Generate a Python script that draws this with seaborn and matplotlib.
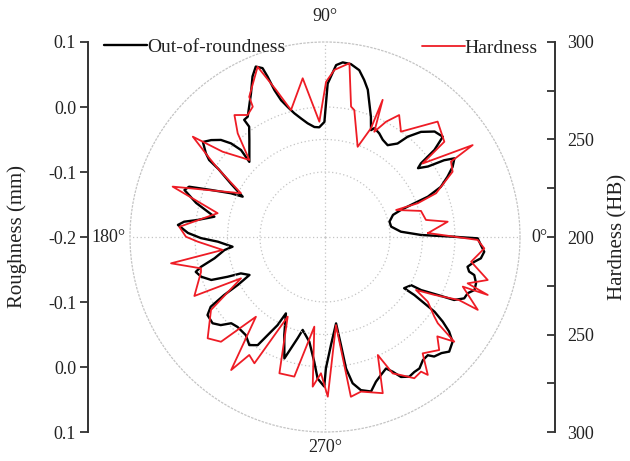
import numpy as np
import matplotlib
matplotlib.use("Agg")
import matplotlib.pyplot as plt
from matplotlib.ticker import FixedLocator
import seaborn as sns

# ---- data -------------------------------------------------------------
# Out-of-roundness profile: polar angle (deg) and roughness (mm)
roundness_deg = [0.1, 1.2, 4.0, 8.9, 13.4, 18.0, 19.6, 20.7, 21.4, 23.4, 26.2, 28.8,
                 31.3, 32.8, 34.4, 36.5, 37.5, 38.5, 40.4, 43.9, 47.6, 50.5, 52.2,
                 55.7, 59.3, 62.4, 65.6, 66.7, 69.1, 71.7, 73.8, 76.0, 78.4, 81.5,
                 84.2, 86.3, 89.0, 90.3, 93.0, 95.5, 98.7, 101.4, 103.9, 106.0,
                 107.8, 109.0, 109.7, 110.3, 112.1, 114.3, 117.2, 120.2, 122.7,
                 124.6, 124.5, 128.0, 135.2, 134.0, 135.1, 137.0, 139.6, 142.1,
                 144.9, 146.4, 147.0, 147.5, 150.5, 153.9, 155.1, 157.6, 159.7,
                 161.5, 165.2, 169.6, 172.4, 173.8, 175.3, 178.3, 180.5, 182.5,
                 186.0, 187.4, 190.9, 193.5, 195.1, 197.8, 200.7, 202.2, 203.4,
                 206.7, 208.8, 209.9, 211.4, 213.6, 217.5, 220.2, 222.6, 225.8,
                 231.1, 235.0, 238.1, 239.7, 241.7, 242.9, 247.4, 251.5, 253.0,
                 254.9, 256.5, 261.5, 265.1, 267.0, 269.7, 270.4, 273.2, 277.3,
                 278.4, 279.1, 280.7, 283.2, 286.6, 289.4, 292.1, 294.9, 296.7,
                 298.5, 301.1, 303.5, 305.7, 308.5, 311.0, 312.4, 315.1, 317.3,
                 320.6, 322.7, 324.3, 325.7, 326.3, 327.0, 327.1, 330.8, 331.1,
                 332.8, 334.0, 336.2, 338.5, 340.5, 343.0, 345.7, 346.5, 348.2,
                 350.6, 352.2, 354.7, 357.1, 359.5]
roughness = [-0.001, -0.052, -0.083, -0.097, -0.098, -0.090, -0.076, -0.053, -0.030,
             -0.006, 0.010, 0.024, 0.033, 0.018, -0.008, -0.022, -0.014, 0.015, 0.038,
             0.034, 0.019, 0.000, -0.018, -0.029, -0.026, -0.020, -0.016, -0.021,
             -0.002, 0.017, 0.036, 0.049, 0.062, 0.069, 0.070, 0.065, 0.036, -0.023,
             -0.031, -0.030, -0.023, -0.014, -0.004, 0.008, 0.021, 0.039, 0.062,
             0.077, 0.083, 0.071, 0.049, 0.032, 0.020, 0.019, 0.006, -0.011, -0.036,
             -0.014, 0.004, 0.019, 0.030, 0.038, 0.024, 0.014, 0.003, -0.006, -0.034,
             -0.059, -0.040, -0.010, 0.023, 0.028, 0.005, -0.027, -0.002, 0.018,
             0.027, 0.011, -0.009, -0.035, -0.057, -0.044, -0.027, -0.004, 0.006,
             0.000, -0.013, -0.038, -0.059, -0.070, -0.047, -0.021, 0.006, 0.017,
             0.018, 0.010, -0.004, -0.007, -0.006, 0.003, -0.004, -0.025, -0.046,
             -0.068, -0.037, -0.003, -0.021, -0.039, -0.053, -0.037, -0.007, 0.018,
             0.030, 0.002, -0.034, -0.066, -0.032, 0.005, 0.029, 0.042, 0.048, 0.036,
             0.029, 0.023, 0.032, 0.045, 0.051, 0.049, 0.049, 0.042, 0.041, 0.049,
             0.053, 0.060, 0.054, 0.040, 0.023, 0.004, -0.016, -0.036, -0.055,
             -0.048, -0.031, -0.005, 0.021, 0.034, 0.036, 0.044, 0.043, 0.037, 0.028,
             0.024, 0.033, 0.042, 0.046, 0.040, 0.035]

# Hardness profile: polar angle (deg) and hardness (HB)
hardness_deg = [2.2, 7.1, 9.6, 15.2, 20.8, 20.0, 21.5, 27.1, 30.9, 31.9, 37.0, 38.6,
                45.7, 54.2, 58.7, 62.1, 64.9, 67.2, 67.1, 70.1, 77.0, 78.7, 82.0,
                86.8, 89.6, 92.8, 98.0, 105.0, 108.4, 111.6, 118.4, 119.0, 122.4,
                126.6, 130.1, 134.5, 140.2, 142.8, 145.7, 147.4, 152.5, 161.7, 167.5,
                176.0, 179.9, 182.1, 187.2, 189.7, 194.2, 195.8, 204.3, 206.2, 212.6,
                220.8, 225.2, 229.1, 234.8, 237.3, 240.8, 244.9, 251.5, 257.6, 263.2,
                265.3, 268.3, 271.0, 277.1, 279.2, 283.1, 290.3, 294.1, 296.4, 298.8,
                302.3, 305.5, 306.7, 310.0, 315.3, 318.5, 321.0, 322.6, 324.0, 327.8,
                329.8, 332.1, 334.8, 334.5, 340.2, 340.4, 342.0, 345.2, 350.4, 355.9,
                358.9]
hardness = [252.9, 263.4, 252.5, 251.0, 239.0, 250.6, 261.2, 273.5, 275.3, 289.2,
            262.6, 278.3, 282.7, 266.6, 273.2, 266.9, 259.6, 276.3, 260.5, 249.2,
            266.8, 268.2, 290.0, 285.8, 279.6, 259.2, 282.2, 267.4, 279.5, 293.9,
            281.7, 276.4, 274.1, 277.9, 269.5, 255.4, 268.3, 285.1, 271.8, 265.3,
            248.6, 282.3, 256.4, 274.9, 271.3, 265.3, 252.9, 280.1, 265.6, 266.1,
            273.5, 248.0, 269.4, 279.5, 275.7, 254.1, 283.5, 271.9, 274.2, 245.1,
            273.7, 273.3, 246.3, 277.0, 269.9, 281.9, 245.5, 283.0, 281.4, 285.4,
            266.3, 278.1, 280.8, 285.7, 284.8, 288.2, 277.9, 282.4, 276.9, 285.3,
            272.8, 269.2, 262.3, 254.0, 263.4, 275.9, 286.8, 275.1, 288.6, 276.9,
            286.3, 276.0, 281.9, 278.3]

roughness_ticks = [0.1, 0.0, -0.1, -0.2, -0.1, 0.0, 0.1]
hardness_ticks = ["300", "250", "200", "250", "300"]
angle_labels = ["0°", "90°", "180°", "270°"]

# ---- style ------------------------------------------------------------
sns.set_theme(style="white")
plt.rcParams["font.family"] = ["Liberation Serif", "DejaVu Serif"]
plt.rcParams["mathtext.fontset"] = "stix"

W, H = 630, 461
fig = plt.figure(figsize=(W / 100, H / 100), dpi=100)

cx, cy, rad = 325, 237, 195          # polar centre and radius in pixels
top_px, bot_px = cy - rad, cy + rad
left_px, right_px = 88, 555

axes_color = "#333333"
grid_kw = dict(color="#c4c4c4", linestyle=(0, (1, 2)), linewidth=0.9)

# ---- linear side scales ------------------------------------------------
ax_l = fig.add_axes([left_px / W, (H - bot_px) / H,
                     (right_px - left_px) / W, (bot_px - top_px) / H])
ax_l.set_facecolor("none")
ax_l.set_ylim(-0.3, 0.3)
ax_l.set_yticks(np.linspace(-0.3, 0.3, 7))
ax_l.set_yticklabels([f"{v:.1f}" for v in roughness_ticks[::-1]])
ax_l.set_xticks([])
for s in ("top", "bottom", "right"):
    ax_l.spines[s].set_visible(False)
ax_l.spines["left"].set_color(axes_color)
ax_l.spines["left"].set_linewidth(1.4)
ax_l.tick_params(axis="y", direction="out", length=5.5, width=1.3,
                 color=axes_color, labelsize=13, pad=3, labelcolor="#222222")
ax_l.set_ylabel("Roughness (mm)", fontsize=15, color="#222222")
ax_l.yaxis.set_label_coords((27 - left_px) / (right_px - left_px), 0.5)

ax_rt = ax_l.twinx()
ax_rt.set_ylim(-100, 100)
ax_rt.set_yticks([-100, -50, 0, 50, 100])
ax_rt.set_yticklabels(hardness_ticks[::-1])
ax_rt.yaxis.set_minor_locator(FixedLocator([-75, -25, 25, 75]))
for s in ("top", "bottom", "left"):
    ax_rt.spines[s].set_visible(False)
ax_rt.spines["right"].set_color(axes_color)
ax_rt.spines["right"].set_linewidth(1.4)
ax_rt.tick_params(axis="y", which="both", direction="in", length=5.5, width=1.3,
                  color=axes_color, labelsize=13, pad=9, labelcolor="#222222")
ax_rt.set_ylabel("Hardness (HB)", fontsize=15, color="#222222", rotation=90)
ax_rt.yaxis.set_label_coords((608 - left_px) / (right_px - left_px), 0.5)

# ---- polar panels ------------------------------------------------------
rect = [(cx - rad) / W, (H - cy - rad) / H, 2 * rad / W, 2 * rad / H]
ax_r = fig.add_axes(rect, projection="polar")
ax_r.set_facecolor("none")
ax_r.set_ylim(-0.2, 0.1)
ax_r.set_yticks([-0.1, 0.0])
ax_r.set_yticklabels([])
ax_r.set_xticks(np.deg2rad([0, 90, 180, 270]))
ax_r.set_xticklabels([])
ax_r.grid(True, **grid_kw)
ax_r.spines["polar"].set_color("#c4c4c4")
ax_r.spines["polar"].set_linestyle((0, (1, 2)))
ax_r.spines["polar"].set_linewidth(0.9)

ax_h = fig.add_axes(rect, projection="polar", frameon=False)
ax_h.set_facecolor("none")
ax_h.set_ylim(200, 300)
ax_h.set_yticks([250])
ax_h.set_yticklabels([])
ax_h.set_xticks([])
ax_h.yaxis.grid(True, **grid_kw)
ax_h.xaxis.grid(False)

# closed profiles
th_b = np.deg2rad(np.r_[roundness_deg, roundness_deg[0] + 360])
r_b = np.r_[roughness, roughness[0]]
th_h = np.deg2rad(np.r_[hardness_deg, hardness_deg[0] + 360])
r_h = np.r_[hardness, hardness[0]]

sns.lineplot(x=th_b, y=r_b, sort=False, estimator=None, ax=ax_r,
             color="black", linewidth=1.7)
sns.lineplot(x=th_h, y=r_h, sort=False, estimator=None, ax=ax_h,
             color="#ee1c25", linewidth=1.3)
for a in (ax_r, ax_h):
    a.set_xlabel("")
    a.set_ylabel("")

# angle labels around the dial
offsets = {0: (11, 0, "left", "center"), 90: (0, 17, "center", "bottom"),
           180: (-4, 0, "right", "center"), 270: (0, -7, "center", "top")}
for ang, lab in zip([0, 90, 180, 270], angle_labels):
    dx, dy, ha, va = offsets[ang]
    ax_r.annotate(lab, xy=(np.deg2rad(ang), 0.1), xytext=(dx * 0.72, dy * 0.72),
                  textcoords="offset points", ha=ha, va=va, fontsize=13,
                  color="#222222", annotation_clip=False)

# legends
line_b = ax_r.lines[0]
line_h = ax_h.lines[0]
leg1 = fig.legend([line_b], ["Out-of-roundness"], loc="center left",
                  bbox_to_anchor=(104 / W, 1 - 47 / H), frameon=False,
                  fontsize=14, handlelength=2.2, handletextpad=0.0,
                  borderpad=0, borderaxespad=0)
leg2 = fig.legend([line_h], ["Hardness"], loc="center right",
                  bbox_to_anchor=(538 / W, 1 - 48 / H), frameon=False,
                  fontsize=14, handlelength=2.2, handletextpad=0.0,
                  borderpad=0, borderaxespad=0)
for lg in (leg1, leg2):
    for t in lg.get_texts():
        t.set_color("#222222")

fig.savefig("out.png", dpi=100)
